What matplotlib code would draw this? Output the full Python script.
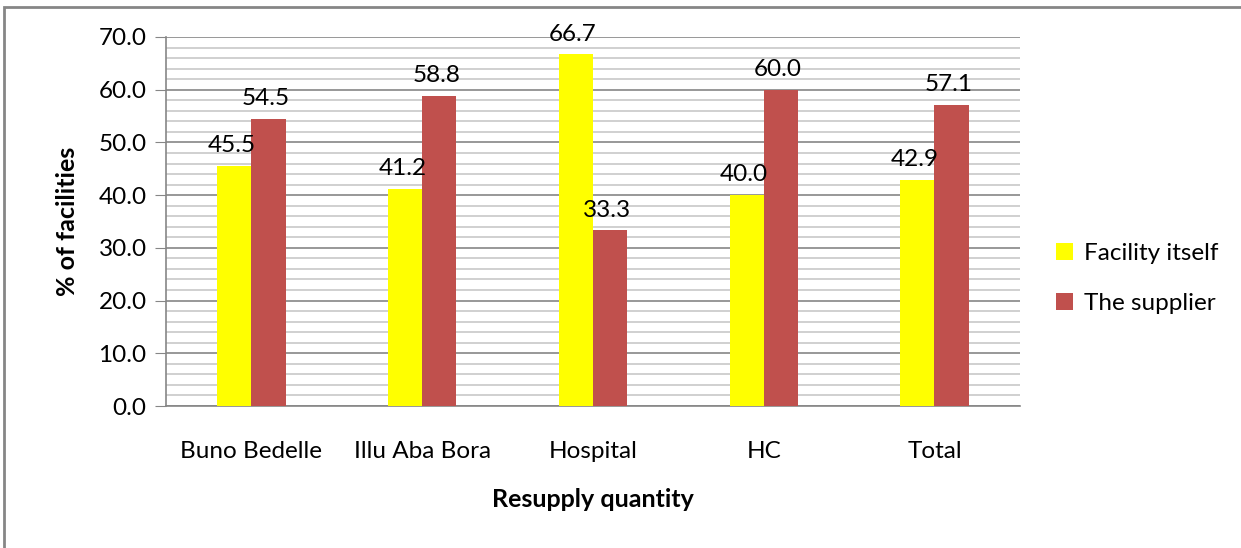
import matplotlib.pyplot as plt
from matplotlib.patches import Rectangle
import numpy as np

plt.rcParams['font.family'] = ['Lato', 'DejaVu Sans']

categories = ["Buno Bedelle", "Illu Aba Bora", "Hospital", "HC", "Total"]
facility_itself = [45.5, 41.2, 66.7, 40.0, 42.9]
the_supplier = [54.5, 58.8, 33.3, 60.0, 57.1]
yticks = [0, 10, 20, 30, 40, 50, 60, 70]

fig = plt.figure(figsize=(12.41, 5.48), dpi=100)
ax = fig.add_axes([0.1338, 0.2591, 0.688, 0.6734])

# outer chart border
fig.patches.append(Rectangle((4 / 1241, -0.05), 1.2, (548 - 7) / 548 + 0.05,
                             transform=fig.transFigure, fill=False,
                             edgecolor='#868686', linewidth=2))

x = np.arange(len(categories))
w = 0.2
b1 = ax.bar(x - w / 2, facility_itself, w, color='#FFFF00',
            label='Facility itself', zorder=3)
b2 = ax.bar(x + w / 2, the_supplier, w, color='#C0504D',
            label='The supplier', zorder=3)

for bars, vals in [(b1, facility_itself), (b2, the_supplier)]:
    for bar, v in zip(bars, vals):
        ax.annotate("%.1f" % v, (bar.get_x() + bar.get_width() / 2, v),
                    xytext=(-2, 7), textcoords='offset points',
                    ha='center', va='bottom', fontsize=17.5, zorder=4)

ax.set_xlim(-0.5, 4.5)
ax.set_ylim(0, 70)
ax.set_yticks(yticks)
ax.set_yticklabels(["%.1f" % t for t in yticks], fontsize=17.5)
ax.set_yticks(np.arange(0, 70, 2), minor=True)
ax.tick_params(axis='y', which='minor', length=0)
ax.tick_params(axis='y', which='major', length=8, color='#868686', pad=6)
ax.set_xticks(x)
ax.set_xticklabels(categories, fontsize=17.5)
ax.tick_params(axis='x', length=0, pad=25)

ax.grid(axis='y', which='major', color='#868686', linewidth=1.2, zorder=1)
ax.grid(axis='y', which='minor', color='#C8C8C8', linewidth=1.2, zorder=1)
ax.set_axisbelow(True)

for s in ['top', 'right']:
    ax.spines[s].set_visible(False)
ax.spines['left'].set_color('#868686')
ax.spines['bottom'].set_color('#868686')
ax.spines['left'].set_linewidth(1.2)
ax.spines['bottom'].set_linewidth(1.2)

ax.set_ylabel("% of facilities", fontsize=18, fontweight='bold', labelpad=14)
ax.set_xlabel("Resupply quantity", fontsize=18, fontweight='bold', labelpad=19)

leg = ax.legend(loc='center left', bbox_to_anchor=(1.017, 0.345), frameon=False,
                fontsize=17.5, handlelength=0.7, handleheight=0.7,
                handletextpad=0.45, labelspacing=1.2)

fig.savefig("out.png", dpi=100)
